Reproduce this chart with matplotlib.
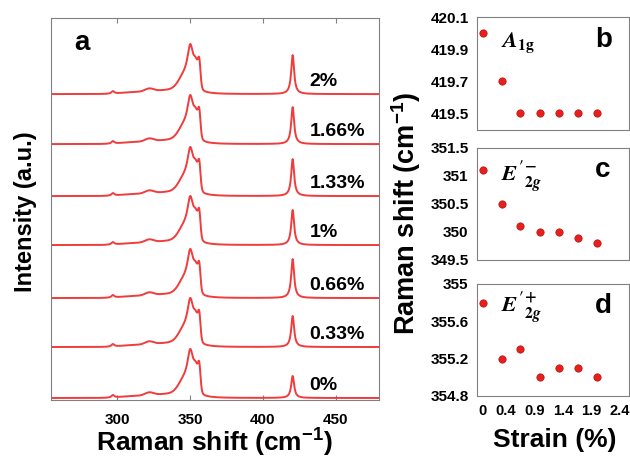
import numpy as np
import matplotlib
matplotlib.use("Agg")
import matplotlib.pyplot as plt

plt.rcParams['font.family'] = ['Liberation Sans', 'DejaVu Sans']
plt.rcParams['font.weight'] = 'bold'
plt.rcParams['mathtext.fontset'] = 'custom'
plt.rcParams['mathtext.rm'] = 'Liberation Sans:bold'
plt.rcParams['mathtext.bf'] = 'Liberation Sans:bold'
plt.rcParams['mathtext.it'] = 'Liberation Sans:bold:italic'
plt.rcParams['mathtext.default'] = 'rm'

# spectra (panel a)
strain_labels = ['0%', '0.33%', '0.66%', '1%', '1.33%', '1.66%', '2%']
offsets = [0, 51, 100, 153, 202, 254, 304]
a1g_height = [22, 31, 39, 35, 37, 37, 39]
main_height = [39, 39, 39, 39, 39, 39, 40]
# lorentzian lines: centre, hwhm, amplitude
lor_centre = [297, 350.2]
lor_hwhm = [1.2, 2.5]
lor_amp = [2.5, 0]          # main line amplitude comes from main_height
# gaussian bands: centre, sigma, amplitude
gau_centre = [310, 322, 335, 346, 354.3, 356.4]
gau_sigma = [8, 3, 12, 4, 1.8, 0.8]
gau_amp = [1.5, 3, 3.5, 12, 22, 18]
a1g_centre = 420.5
a1g_hwhm = 1.2

# shift vs strain (panels b-d)
strain = [0, 0.33, 0.66, 1.0, 1.33, 1.66, 2.0]
a1g_shift = [420.0, 419.7, 419.5, 419.5, 419.5, 419.5, 419.5]
e2g_minus = [351.1, 350.5, 350.1, 350.0, 350.0, 349.9, 349.8]
e2g_plus = [355.8, 355.2, 355.3, 355.0, 355.1, 355.1, 355.0]


def lor(x, c, w, a):
    return a * w**2 / ((x - c)**2 + w**2)


def gau(x, c, s, a):
    return a * np.exp(-(x - c)**2 / (2 * s**2))


fig = plt.figure(figsize=(6.3, 4.59), dpi=100)
red = '#f03c3c'
gray = '#808080'

ax = fig.add_axes([0.081, 0.1285, 0.521, 0.832])
x = np.linspace(255, 480, 2000)
for i, lab in enumerate(strain_labels):
    y = np.zeros_like(x)
    y += lor(x, lor_centre[0], lor_hwhm[0], lor_amp[0])
    y += lor(x, lor_centre[1], lor_hwhm[1], main_height[i])
    for c, s, a in zip(gau_centre, gau_sigma, gau_amp):
        y += gau(x, c, s, a)
    y += lor(x, a1g_centre, a1g_hwhm, a1g_height[i])
    ax.plot(x, y + offsets[i], color=red, lw=1.4)
    ax.text(432, offsets[i] + 13, lab, ha='left', va='center', fontsize=14)

ax.set_xlim(254.5, 480)
ax.set_ylim(-2, 380)
ax.set_xticks([300, 350, 400, 450])
ax.set_yticks([])
ax.tick_params(axis='x', direction='in', top=True, color=gray, labelsize=11, pad=9)
for s in ax.spines.values():
    s.set_color(gray)
ax.text(0.07, 0.935, 'a', transform=ax.transAxes, fontsize=20, va='center')

fig.text(0.04, 0.538, 'Intensity (a.u.)', rotation=90, ha='center', va='center', fontsize=17)
fig.text(0.341, 0.034, 'Raman shift (cm$^{-1}$)', ha='center', va='center', fontsize=19)

specs = [
    ([0.757, 0.7168, 0.241, 0.246], a1g_shift, (419.395, 420.1), [419.5, 419.7, 419.9, 420.1],
     ['419.5', '419.7', '419.9', '420.1'], r'$\mathit{A}_{1\mathrm{g}}$', 0.77, 'b'),
    ([0.757, 0.4336, 0.241, 0.244], e2g_minus, (349.5, 351.5), [349.5, 350, 350.5, 351, 351.5],
     ['349.5', '350', '350.5', '351', '351.5'], r"$\mathit{E}'^{-}_{2\mathit{g}}$", 0.74, 'c'),
    ([0.757, 0.1373, 0.241, 0.244], e2g_plus, (354.8, 356.0), [354.8, 355.2, 355.6, 356.0],
     ['354.8', '355.2', '355.6', '355'], r"$\mathit{E}'^{+}_{2\mathit{g}}$", 0.79, 'd'),
]
for j, (rect, vals, ylim, yt, ytl, mode, my, letter) in enumerate(specs):
    bx = fig.add_axes(rect)
    bx.scatter(strain, vals, s=28, color='#e8201c', edgecolor='#b31010', lw=0.5, zorder=3)
    bx.set_xlim(-0.1, 2.55)
    bx.set_ylim(*ylim)
    bx.set_yticks(yt)
    bx.set_yticklabels(ytl)
    bx.tick_params(length=0, labelsize=11, pad=6)
    if j == 2:
        bx.set_xticks([0, 0.4, 0.9, 1.4, 1.9, 2.4])
        bx.set_xticklabels(['0', '0.4', '0.9', '1.4', '1.9', '2.4'])
        bx.tick_params(axis='x', labelsize=10.5)
    else:
        bx.set_xticks([])
    for s in bx.spines.values():
        s.set_color(gray)
    bx.text(0.16, my, mode, transform=bx.transAxes, fontsize=16, va='center',
            math_fontfamily='stix', fontweight='normal')
    bx.text(0.78, 0.8, letter, transform=bx.transAxes, fontsize=20, va='center')

fig.text(0.644, 0.536, 'Raman shift (cm$^{-1}$)', rotation=90, ha='center', va='center', fontsize=19.5)
fig.text(0.88, 0.041, 'Strain (%)', ha='center', va='center', fontsize=19)

fig.savefig('out.png', dpi=100)
